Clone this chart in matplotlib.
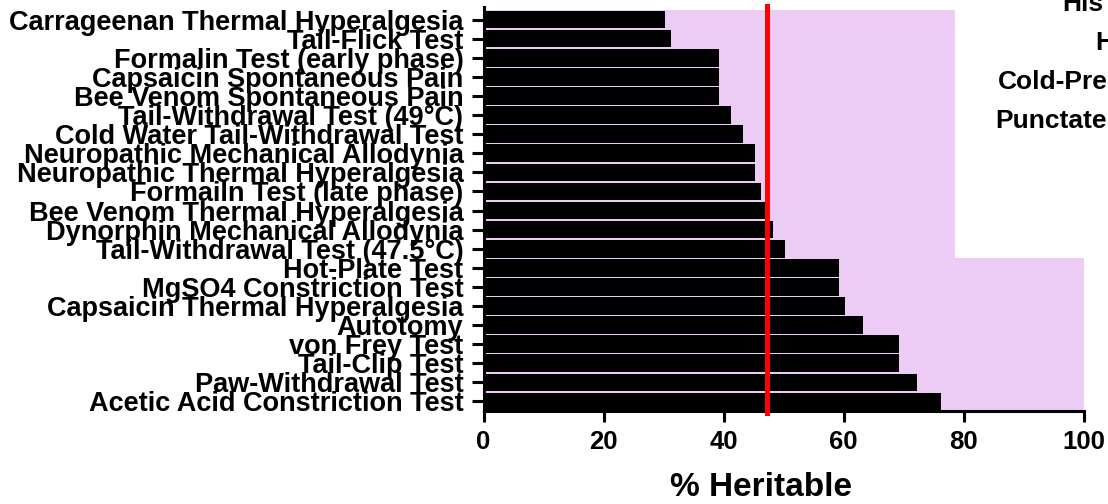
import matplotlib
matplotlib.use("Agg")
import matplotlib.pyplot as plt

plt.rcParams["font.family"] = ["Liberation Sans", "DejaVu Sans"]
plt.rcParams["font.weight"] = "bold"

# assays, top to bottom
tests = ["Carrageenan Thermal Hyperalgesia", "Tail-Flick Test",
         "Formalin Test (early phase)", "Capsaicin Spontaneous Pain",
         "Bee Venom Spontaneous Pain", "Tail-Withdrawal Test (49°C)",
         "Cold Water Tail-Withdrawal Test", "Neuropathic Mechanical Allodynia",
         "Neuropathic Thermal Hyperalgesia", "Formailn Test (late phase)",
         "Bee Venom Thermal Hyperalgesia", "Dynorphin Mechanical Allodynia",
         "Tail-Withdrawal Test (47.5°C)", "Hot-Plate Test",
         "MgSO4 Constriction Test", "Capsaicin Thermal Hyperalgesia",
         "Autotomy", "von Frey Test", "Tail-Clip Test",
         "Paw-Withdrawal Test", "Acetic Acid Constriction Test"]
heritable = [30.3, 31.3, 39.3, 39.3, 39.3, 41.3, 43.3, 45.3, 45.3, 46.3,
             47.3, 48.3, 50.3, 59.3, 59.3, 60.3, 63.3, 69.3, 69.3, 72.3, 76.3]
# shaded band behind the rows
band = [78.5] * 13 + [100] * 8
median_line = 47.2
side_text = ["His", "H", "Cold-Pre", "Punctate"]

LAV = "#ECCBF5"

fig = plt.figure(figsize=(11.08, 5.04), dpi=100)
ax = fig.add_axes([0.4364, 0.1845, 0.5415, 0.8016])

ypos = list(range(len(tests)))
ax.barh(ypos, band, height=1.0, color=LAV, linewidth=0, zorder=1)
ax.barh(ypos, heritable, height=0.92, color="black", linewidth=0, zorder=2)
ax.axvline(median_line, ymin=-0.005, ymax=1.003, color="#ff0000", lw=3.6,
           zorder=3, clip_on=False)

ax.set_xlim(0, 100)
ax.set_ylim(20.5, -0.66)
ax.set_yticks(ypos)
ax.set_yticklabels(tests, fontsize=19.5, fontweight="bold")
ax.set_xticks([0, 20, 40, 60, 80, 100])
ax.tick_params(axis="y", length=8.5, width=2.2, pad=6)
ax.tick_params(axis="x", length=8, width=2.2, pad=6, labelsize=18.5)
for l in ax.get_xticklabels():
    l.set_fontweight("bold")
ax.set_xlabel("% Heritable", fontsize=24, fontweight="bold")
ax.xaxis.set_label_coords((761 - 483.5) / 600, -0.152)

for s in ["top", "right"]:
    ax.spines[s].set_visible(False)
for s in ["left", "bottom"]:
    ax.spines[s].set_linewidth(2.2)
ax.spines["bottom"].set_bounds(0, 100)

# clipped legend text at the right edge
xs = [1062, 1095, 998, 995]
ys = [11, 50, 89, 128]
for t, x, y in zip(side_text, xs, ys):
    fig.text(x / 1108, 1 - y / 504, t, fontsize=19, fontweight="bold",
             ha="left", va="baseline")

fig.savefig("out.png", dpi=100)
